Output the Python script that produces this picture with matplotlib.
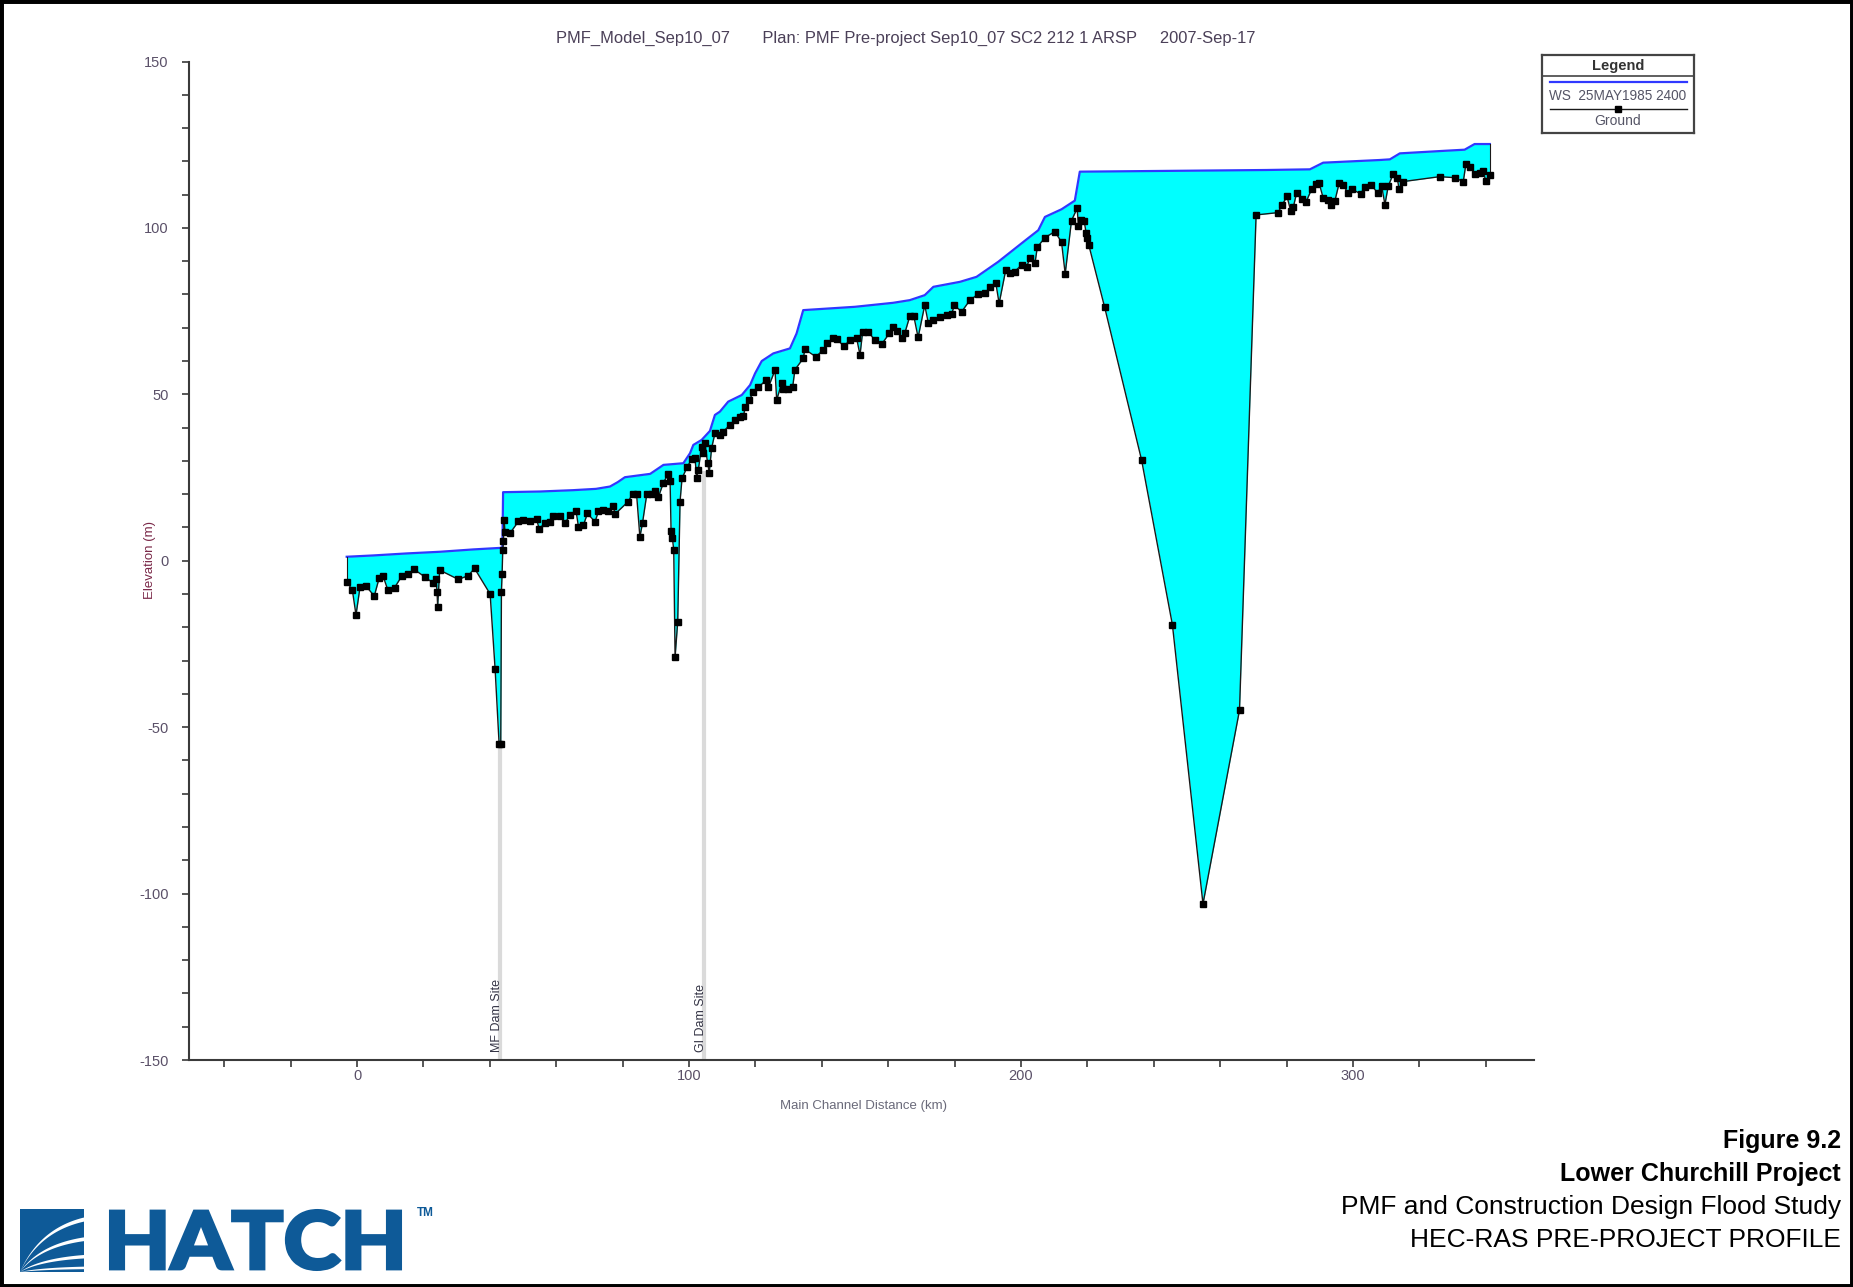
import numpy as np
import matplotlib
matplotlib.use("Agg")
import matplotlib.pyplot as plt
from matplotlib.patches import Rectangle, PathPatch, Polygon
from matplotlib.textpath import TextPath
from matplotlib.font_manager import FontProperties, fontManager
from matplotlib.transforms import Affine2D
from matplotlib.ticker import MultipleLocator

plt.rcParams['font.family'] = ['Liberation Sans', 'DejaVu Sans']
plt.rcParams['axes.unicode_minus'] = False

# ---- profile data -------------------------------------------------------
ground_km = [
    -3.1, -1.4, -0.3, 0.9, 2.7, 5.2, 6.7, 7.8, 9.3, 11.3, 13.5, 15.5, 17.2, 20.5,
    22.8, 23.8, 24.1, 24.3, 24.9, 30.5, 33.5, 35.4, 40.1, 41.6, 42.8, 43.3, 43.5,
    43.7, 43.9, 44.1, 44.3, 44.6, 46.1, 48.6, 50.1, 52.1, 54.1, 54.9, 56.6, 58.1,
    59.1, 61.2, 62.7, 64.2, 66.0, 66.7, 68.2, 69.4, 71.7, 72.7, 74.2, 75.7, 77.2,
    77.7, 81.7, 83.0, 84.2, 85.2, 86.0, 87.3, 88.8, 89.8, 90.8, 92.3, 93.8, 94.3,
    94.6, 95.0, 95.4, 95.8, 96.6, 97.3, 97.9, 99.5, 100.8, 101.8, 102.3, 102.8,
    103.8, 104.3, 104.8, 105.6, 106.1, 106.8, 107.8, 109.3, 110.3, 112.3, 113.8,
    115.3, 116.4, 117.0, 118.2, 119.4, 120.9, 123.2, 123.9, 125.9, 126.4, 127.9,
    128.4, 129.9, 131.2, 131.9, 134.4, 134.9, 138.2, 140.4, 141.5, 143.5, 144.7,
    146.6, 148.4, 150.5, 151.5, 152.3, 154.0, 156.0, 158.0, 160.3, 161.5, 162.7,
    164.0, 165.0, 166.5, 167.7, 169.0, 171.0, 172.1, 173.6, 175.6, 177.6, 179.1,
    179.9, 182.1, 184.6, 187.1, 189.1, 190.6, 192.4, 193.4, 195.4, 196.6, 198.1,
    200.2, 201.7, 202.7, 204.2, 204.9, 207.2, 210.2, 212.2, 213.3, 215.2, 216.9,
    217.3, 218.2, 219.0, 219.6, 220.0, 220.4, 225.2, 236.3, 245.6, 254.8, 265.8,
    270.8, 277.4, 278.7, 280.1, 281.2, 282.0, 283.0, 284.5, 285.8, 287.5, 288.8,
    289.8, 291.0, 292.5, 293.3, 294.5, 295.8, 297.0, 298.5, 299.8, 302.3, 303.5,
    305.5, 307.4, 308.6, 309.6, 310.6, 312.1, 313.3, 313.9, 314.9, 326.1, 330.6,
    333.2, 334.0, 335.2, 336.7, 338.2, 339.2, 340.0, 341.2,
]
ground_elev = [
    -6.3, -8.8, -16.3, -8.0, -7.6, -10.6, -5.1, -4.5, -8.8, -8.1, -4.6, -4.1, -2.6,
    -4.9, -6.6, -5.4, -9.3, -13.8, -2.8, -5.6, -4.5, -2.3, -10.0, -32.6, -55.0,
    -55.0, -9.3, -4.0, 3.2, 5.9, 12.3, 8.7, 8.3, 11.8, 12.2, 12.0, 12.4, 9.5, 11.4,
    11.7, 13.3, 13.5, 11.4, 13.8, 14.8, 10.2, 10.7, 14.2, 11.7, 14.8, 15.3, 14.8,
    16.5, 14.0, 17.8, 20.1, 20.1, 7.1, 11.4, 20.1, 20.1, 21.1, 19.2, 23.5, 26.2,
    24.0, 8.8, 6.8, 3.2, -29.0, -18.3, 17.8, 24.8, 28.3, 30.5, 31.0, 24.8, 27.3,
    34.3, 32.3, 35.3, 29.3, 26.5, 33.8, 38.3, 37.8, 38.8, 40.8, 42.3, 43.3, 43.6,
    46.3, 48.3, 50.8, 52.1, 54.3, 52.1, 57.3, 48.3, 53.3, 51.6, 51.6, 52.1, 57.4,
    60.8, 63.5, 61.3, 63.3, 65.3, 66.8, 66.5, 64.4, 66.2, 66.8, 61.8, 68.8, 68.8,
    66.2, 65.0, 68.3, 70.3, 69.1, 66.8, 68.4, 73.5, 73.5, 67.1, 76.8, 71.3, 72.3,
    73.3, 73.8, 74.1, 76.8, 74.8, 78.3, 80.1, 80.3, 82.1, 83.5, 77.3, 87.4, 86.6,
    86.9, 88.9, 88.4, 90.9, 89.4, 94.2, 97.1, 98.9, 95.7, 86.2, 102.2, 105.9,
    100.5, 102.5, 102.2, 98.5, 97.0, 94.9, 76.1, 30.3, -19.3, -103.1, -44.9,
    103.9, 104.6, 107.0, 109.5, 105.2, 106.2, 110.5, 108.7, 107.7, 111.6, 113.1,
    113.4, 109.0, 108.5, 107.0, 108.0, 113.4, 112.9, 110.5, 111.6, 110.2, 112.4,
    112.9, 110.5, 112.7, 107.0, 112.6, 116.2, 114.9, 111.6, 113.9, 115.4, 115.1,
    113.9, 119.3, 118.4, 116.2, 116.5, 117.0, 114.0, 115.9,
]

ws_km = [
    -3.1, 5.0, 15.0, 25.0, 35.0, 43.8, 44.0, 55.0, 65.0, 72.0, 76.2, 78.5, 80.7,
    88.3, 92.3, 98.3, 100.3, 101.3, 103.8, 106.3, 107.8, 109.3, 111.8, 115.9,
    118.4, 119.9, 121.9, 125.4, 130.4, 132.4, 134.4, 150.0, 161.5, 166.5, 171.0,
    173.6, 181.6, 186.6, 193.1, 201.6, 205.2, 207.2, 212.2, 216.2, 217.7, 273.9,
    287.0, 291.0, 308.0, 311.1, 314.1, 328.1, 333.6, 336.6, 341.2,
]
ws_elev = [
    1.2, 1.6, 2.2, 2.7, 3.4, 3.9, 20.6, 20.8, 21.2, 21.6, 22.3, 23.6, 25.1,
    26.1, 28.8, 29.3, 32.3, 34.8, 36.3, 39.0, 43.8, 44.8, 47.8, 49.8,
    52.8, 56.3, 60.0, 62.3, 63.8, 68.3, 75.3, 76.3, 77.5, 78.3, 79.8,
    82.3, 83.8, 85.3, 89.8, 96.5, 99.3, 103.3, 105.6, 108.2, 116.9, 117.4,
    117.6, 119.6, 120.4, 120.6, 122.4, 123.2, 123.5, 125.2, 125.2,
]

dam_sites = ["MF Dam Site", "GI Dam Site"]
dam_km = [43.1, 104.5]

title = ("PMF_Model_Sep10_07       Plan: PMF Pre-project Sep10_07 SC2 212 1 ARSP"
         "     2007-Sep-17")
legend_labels = ["WS  25MAY1985 2400", "Ground"]
caption_bold = ["Figure 9.2", "Lower Churchill Project"]
caption_plain = ["PMF and Construction Design Flood Study", "HEC-RAS PRE-PROJECT PROFILE"]

# ---- figure ------------------------------------------------------------
W, H = 1853, 1287
fig = plt.figure(figsize=(W / 100, H / 100), dpi=100)
pix = Affine2D().scale(1.0 / W, 1.0 / H) + fig.transFigure   # pixel coords (origin bottom-left)


def fy(y_top):
    return 1 - y_top / H


ax = fig.add_axes([189 / W, fy(1060), (1534 - 189) / W, (1060 - 61.5) / H])
ax.set_xlim(-50.6, 354.5)
ax.set_ylim(-150, 150)
for s in ("top", "right"):
    ax.spines[s].set_visible(False)
for s in ("left", "bottom"):
    ax.spines[s].set_color("#3a3a3a")
    ax.spines[s].set_linewidth(1.5)
ax.xaxis.set_major_locator(MultipleLocator(100))
ax.xaxis.set_minor_locator(MultipleLocator(20))
ax.yaxis.set_major_locator(MultipleLocator(50))
ax.yaxis.set_minor_locator(MultipleLocator(10))
ax.tick_params(which="both", direction="out", length=5, width=1.2, color="#3a3a3a",
               labelcolor="#5a5068", labelsize=10.5)
ax.tick_params(axis="y", pad=9.5)
ax.tick_params(axis="x", pad=1.5)

gx = np.array(ground_km)
gy = np.array(ground_elev)
wx = np.array(ws_km)
wy = np.array(ws_elev)
xs = np.union1d(gx, wx)
g_i = np.interp(xs, gx, gy)
w_i = np.interp(xs, wx, wy)

# dam site markers
for name, km in zip(dam_sites, dam_km):
    top = min(np.interp(km, gx, gy), 27.0)
    ax.plot([km, km], [-150, top], color="#dadada", lw=3, zorder=1, solid_capstyle="butt")
    ax.text(km - 0.9, -147.5, name, rotation=90, ha="center", va="bottom",
            fontsize=9, color="#333344", zorder=5)

ax.fill_between(xs, g_i, w_i, where=w_i >= g_i, interpolate=True,
                color="#00ffff", lw=0, zorder=2)
ax.plot(wx, wy, color="#3038ff", lw=1.6, zorder=3)
ax.plot([gx[0], gx[0]], [gy[0], wy[0]], color="#1a1a1a", lw=0.8, zorder=3)
ax.plot([gx[-1], gx[-1]], [gy[-1], wy[-1]], color="#1a1a1a", lw=0.8, zorder=3)
ax.plot(gx, gy, color="#1a1a1a", lw=1.0, marker="s", ms=4.6, mfc="black",
        mec="black", zorder=4)

# titles and axis labels
fig.text(906 / W, fy(38.5), title, ha="center", va="center", fontsize=11.9, color="#4b4058")
fig.text(150.5 / W, fy(560), "Elevation (m)", rotation=90, ha="center", va="center",
         fontsize=9.5, color="#7a2848")
fig.text(863 / W, fy(1106), "Main Channel Distance (km)", ha="center", va="center",
         fontsize=9.5, color="#6a6a7a")

# legend box
lg = fig.add_axes([1542 / W, fy(133), 152 / W, 78 / H])
lg.set_xlim(0, 1)
lg.set_ylim(0, 1)
lg.set_xticks([])
lg.set_yticks([])
for s in lg.spines.values():
    s.set_color("#444444")
    s.set_linewidth(1.6)
lg.text(0.5, 0.855, "Legend", ha="center", va="center", fontsize=10.5,
        fontweight="bold", color="#333333")
lg.plot([0, 1], [0.735, 0.735], color="#444444", lw=1.2)
lg.plot([0.053, 0.954], [0.648, 0.648], color="#3038ff", lw=1.6)
lg.text(0.5, 0.48, legend_labels[0], ha="center", va="center", fontsize=9.8,
        color="#555566")
lg.plot([0.053, 0.954], [0.31, 0.31], color="#1a1a1a", lw=1.0)
lg.plot([0.5], [0.31], marker="s", ms=4.6, color="black")
lg.text(0.5, 0.155, legend_labels[1], ha="center", va="center", fontsize=10,
        color="#555566")

# caption block
cap_y = [1141, 1174, 1207, 1240]
cap_size = [18, 18, 19, 19]
for i, line in enumerate(caption_bold + caption_plain):
    fig.text(1841 / W, fy(cap_y[i]), line, ha="right", va="center", fontsize=cap_size[i],
             fontweight="bold" if i < 2 else "normal", color="black")

# company mark
blue = "#0e5a98"


def heavy_font():
    for fam in ["Lato", "Roboto", "Inter", "Open Sans", "Noto Sans"]:
        best = None
        for f in fontManager.ttflist:
            if f.name != fam or f.style != "normal":
                continue
            w = f.weight
            if isinstance(w, str):
                w = {"black": 900, "heavy": 900, "extra bold": 800, "ultrabold": 800,
                     "bold": 700}.get(w.lower(), 400)
            if w >= 800 and (best is None or w > best[0]):
                best = (w, f.fname)
        if best:
            return FontProperties(fname=best[1])
    return FontProperties(family="Liberation Sans", weight="bold")


tp = TextPath((0, 0), "HATCH", size=100, prop=heavy_font())
ext = tp.get_extents()
x0, x1, yt, yb = 110.5, 400.5, 1210.5, 1269.5
fit = (Affine2D().translate(-ext.x0, -ext.y0)
       .scale((x1 - x0) / ext.width, (yb - yt) / ext.height)
       .translate(x0, H - yb))
# a stroke of the same colour gives the heavier letter weight of the mark
fig.add_artist(PathPatch(fit.transform_path(tp), facecolor=blue, edgecolor=blue,
                         lw=2.2, joinstyle="miter", transform=pix))
fig.text(425 / W, fy(1213), "TM", ha="center", va="center", fontsize=8.5,
         fontweight="bold", color=blue)

ix0, ix1, iyt, iyb = 20, 84, 1209, 1272
fig.add_artist(Rectangle((ix0, H - iyb), ix1 - ix0, iyb - iyt, facecolor=blue,
                         edgecolor="none", transform=pix))
t = np.linspace(0, 1, 40)


def bez(v, a=0.3, b=0.8):
    u = 2 * (1 - t) * t * a + t ** 2
    w = 2 * (1 - t) * t * (b * v) + t ** 2 * v
    return u, w


for v1, v2 in [(0.80, 0.865), (0.49, 0.55), (0.215, 0.27), (0.045, 0.085)]:
    ua, va_ = bez(v1)
    ub, vb = bez(v2)
    uu = np.concatenate([ua, ub[::-1]])
    vv = np.concatenate([va_, vb[::-1]])
    pts = np.column_stack([ix0 + uu * (ix1 - ix0), (H - iyb) + vv * (iyb - iyt)])
    fig.add_artist(Polygon(pts, closed=True, facecolor="white", edgecolor="none",
                           transform=pix))

# outer frame
fig.add_artist(Rectangle((0, 0), 1, 1, transform=fig.transFigure, fill=False,
                         edgecolor="black", lw=5))

fig.savefig("out.png", dpi=100)
